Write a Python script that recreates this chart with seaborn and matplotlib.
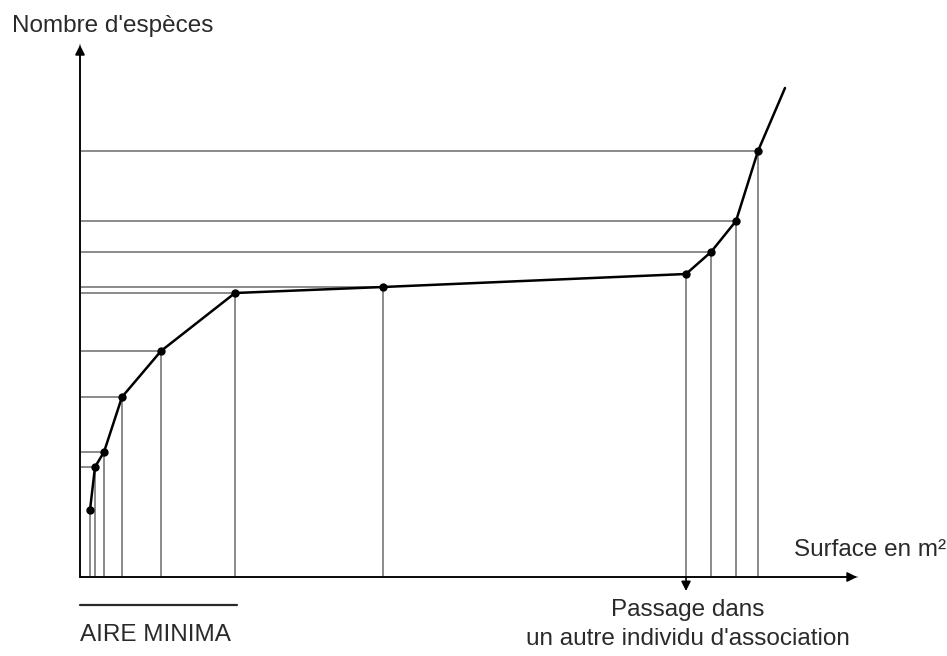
import matplotlib
matplotlib.use("Agg")
import matplotlib.pyplot as plt
import seaborn as sns
import pandas as pd

sns.set_theme(style="white")
plt.rcParams['font.family'] = ['Liberation Sans', 'DejaVu Sans']

# Species-area curve (arbitrary units)
surface = [10, 15, 24, 42, 81, 155, 303, 606, 631, 656, 678]
species = [67, 110, 125, 180, 226, 284, 290, 303, 325, 356, 426]
# the curve keeps rising past the last sample
surface_end = 705
species_end = 489
# which samples get a horizontal guide to the y axis
guide_idx = [1, 2, 3, 4, 5, 6, 8, 9, 10]
passage_idx = 7
aire_minima_end = 157

df = pd.DataFrame({'surface': surface, 'species': species})

fig = plt.figure(figsize=(9.47, 6.56), dpi=100)
ax = fig.add_axes([0, 0, 1, 1])
ax.set_xlim(-80, 867)
ax.set_ylim(-79, 577)
ax.axis('off')

grey = '#8a8a8a'
# vertical guides down to the x axis
for x, y in zip(surface, species):
    ax.plot([x, x], [0, y], color=grey, lw=1.4, zorder=1)
# horizontal guides to the y axis
for i in guide_idx:
    ax.plot([0, surface[i]], [species[i], species[i]], color=grey, lw=1.4, zorder=1)

# curve
ax.plot([surface[-1], surface_end], [species[-1], species_end], color='black', lw=1.8, zorder=2)
sns.lineplot(data=df, x='surface', y='species', ax=ax, color='black', lw=1.8,
             marker='o', markersize=6, markeredgewidth=0, sort=False, zorder=3)
ax.set_xlabel('')
ax.set_ylabel('')

# axes with arrows
arrow = dict(arrowstyle='-|>', color='black', lw=1.3, mutation_scale=14, shrinkA=0, shrinkB=0)
ax.annotate('', xy=(0, 532), xytext=(0, 0), arrowprops=arrow)
ax.annotate('', xy=(777, 0), xytext=(0, 0), arrowprops=arrow)
ax.plot([0, 777], [0, 0], color=grey, lw=1.4, zorder=1)
ax.plot([0, 0], [0, 532], color=grey, lw=1.4, zorder=1)

# passage arrow
ax.annotate('', xy=(surface[passage_idx], -14), xytext=(surface[passage_idx], 0),
            arrowprops=dict(arrowstyle='-|>', color='black', lw=1.2, mutation_scale=14,
                            shrinkA=0, shrinkB=0))

txt = '#2a2a2a'
ax.text(-68, 551, "Nombre d'espèces", fontsize=17.5, color=txt, va='center', ha='left')
ax.text(866, 27, "Surface en m²", fontsize=17.5, color=txt, va='center', ha='right')
ax.text(surface[passage_idx] + 2, -33, "Passage dans", fontsize=17.5, color=txt,
        va='center', ha='center')
ax.text(surface[passage_idx] + 2, -62, "un autre individu d'association", fontsize=17.5,
        color=txt, va='center', ha='center')

ax.plot([0, aire_minima_end], [-28, -28], color=txt, lw=1.6)
ax.text(0, -58, "AIRE MINIMA", fontsize=17.5, color=txt, va='center', ha='left')

fig.savefig('out.png', dpi=100)
